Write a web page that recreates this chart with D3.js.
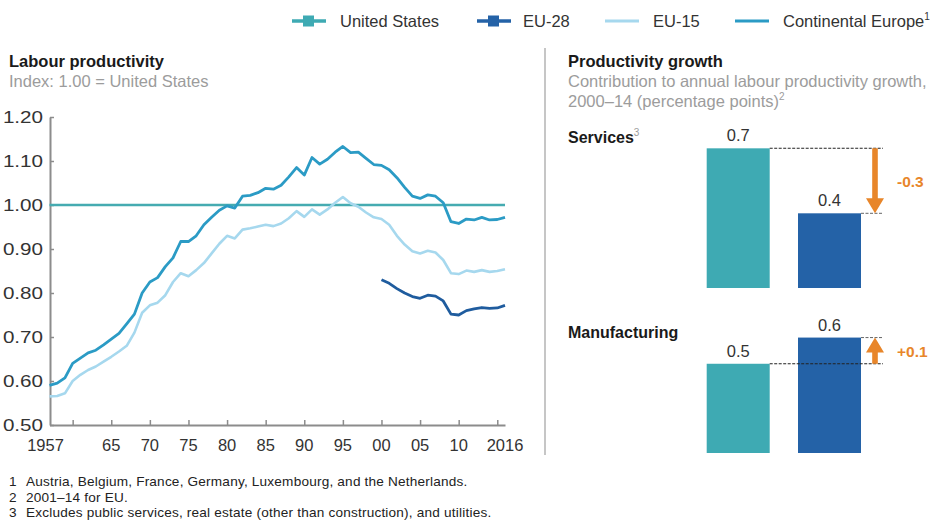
<!DOCTYPE html>
<html><head><meta charset="utf-8">
<script src="https://cdn.jsdelivr.net/npm/d3@7"></script>
<style>
body{margin:0;background:#fff;}
svg{display:block;font-family:"Liberation Sans",Arial,Helvetica,sans-serif;}
</style></head><body>
<svg id="chart" width="933" height="522"></svg>
<script>
// ---------- DATA ----------
const years = [1957,1958,1959,1960,1961,1962,1963,1964,1965,1966,1967,1968,1969,1970,1971,1972,1973,1974,1975,1976,1977,1978,1979,1980,1981,1982,1983,1984,1985,1986,1987,1988,1989,1990,1991,1992,1993,1994,1995,1996,1997,1998,1999,2000,2001,2002,2003,2004,2005,2006,2007,2008,2009,2010,2011,2012,2013,2014,2015,2016];
const continentalEurope = [0.590,0.595,0.607,0.640,0.652,0.664,0.670,0.682,0.695,0.708,0.730,0.752,0.800,0.825,0.835,0.860,0.880,0.917,0.917,0.930,0.955,0.972,0.988,0.998,0.993,1.020,1.022,1.028,1.038,1.036,1.045,1.064,1.085,1.068,1.108,1.093,1.104,1.120,1.133,1.119,1.120,1.106,1.092,1.090,1.080,1.062,1.040,1.020,1.015,1.023,1.020,1.005,0.962,0.958,0.968,0.966,0.972,0.966,0.967,0.972];
const eu15 = [0.565,0.566,0.572,0.600,0.614,0.625,0.633,0.644,0.655,0.667,0.680,0.710,0.755,0.772,0.778,0.795,0.825,0.845,0.838,0.852,0.868,0.890,0.912,0.930,0.924,0.944,0.947,0.951,0.955,0.952,0.958,0.970,0.986,0.973,0.990,0.978,0.990,1.005,1.018,1.004,0.996,0.983,0.972,0.968,0.955,0.930,0.910,0.895,0.890,0.896,0.892,0.875,0.845,0.843,0.851,0.848,0.852,0.848,0.850,0.854];
const eu28Years = [2000,2001,2002,2003,2004,2005,2006,2007,2008,2009,2010,2011,2012,2013,2014,2015,2016];
const eu28 = [0.830,0.822,0.810,0.800,0.792,0.788,0.795,0.793,0.782,0.752,0.750,0.760,0.764,0.767,0.765,0.766,0.772];
const unitedStatesIndex = 1.00;

const yTickValues = [0.50,0.60,0.70,0.80,0.90,1.00,1.10,1.20];
const xTickYears = [1960,1965,1970,1975,1980,1985,1990,1995,2000,2005,2010,2015];
const xLabelYears = [1957,1965,1970,1975,1980,1985,1990,1995,2000,2005,2010,2016];
const xLabelText = ["1957","65","70","75","80","85","90","95","00","05","10","2016"];

const regions = ["United States","EU"];
const sectors = ["Services","Manufacturing"];
const sectorNotes = ["3",""];
const servicesValues = [0.72, 0.385];
const manufacturingValues = [0.46, 0.595];

const legendLabels = ["United States","EU-28","EU-15","Continental Europe"];
const legendNotes = ["","","","1"];
const footnotes = [
  ["1","Austria, Belgium, France, Germany, Luxembourg, and the Netherlands."],
  ["2","2001\u201314 for EU."],
  ["3","Excludes public services, real estate (other than construction), and utilities."]
];

// ---------- STYLE ----------
const C = {
  us: "#3eaab3", usLine: "#45abb1", eu28: "#1f5c9e", eu15: "#a6d8ee",
  cont: "#2b9bc5", euBar: "#2462a7", orange: "#e8862a",
  axis: "#8c8c8c", text: "#333333", title: "#1a1a1a", sub: "#9c9c9c"
};

const svg = d3.select("#chart");

// ---------- LEGEND ----------
const legendColors = [C.us, C.euBar, C.eu15, C.cont];
const legendMarker = [true, true, false, false];
const legendX = [292, 477, 605, 735];
const legendTextX = [340, 523, 653, 783];
const lg = svg.append("g");
legendLabels.forEach((lab, i) => {
  const x0 = legendX[i];
  lg.append("line").attr("x1", x0).attr("x2", x0 + 34).attr("y1", 21).attr("y2", 21)
    .attr("stroke", legendColors[i]).attr("stroke-width", legendMarker[i] ? 3.5 : 3);
  if (legendMarker[i]) {
    lg.append("rect").attr("x", x0 + 11).attr("y", 15.5).attr("width", 11).attr("height", 11)
      .attr("fill", legendColors[i]);
  }
  const t = lg.append("text").attr("x", legendTextX[i]).attr("y", 27)
    .attr("font-size", 16.5).attr("fill", C.text).text(lab);
  if (legendNotes[i]) t.append("tspan").attr("font-size", 10).attr("dy", -7).text(legendNotes[i]);
});

// ---------- LEFT PANEL ----------
svg.append("text").attr("x", 9).attr("y", 67).attr("font-size", 16.5).attr("font-weight", "bold")
  .attr("fill", C.title).text("Labour productivity");
svg.append("text").attr("x", 9).attr("y", 87).attr("font-size", 16.5)
  .attr("fill", C.sub).text("Index: 1.00 = United States");

const x = d3.scaleLinear().domain([years[0], years[years.length - 1]]).range([49.5, 505]);
const y = d3.scaleLinear().domain([0.5, 1.2]).range([425, 117]);

// y axis
const yAxis = svg.append("g").attr("transform", "translate(50,0)")
  .call(d3.axisLeft(y).tickValues(yTickValues).tickFormat(d3.format(".2f"))
    .tickSizeInner(-4).tickSizeOuter(0).tickPadding(7));
yAxis.select(".domain").attr("stroke", C.axis).attr("stroke-width", 2);
yAxis.selectAll(".tick line").attr("stroke", C.axis).attr("stroke-width", 1.5);
yAxis.selectAll(".tick text").attr("font-size", 16.5).attr("fill", C.text)
  .attr("font-family", "'Liberation Sans',Arial,sans-serif")
  .attr("x", -7 / 1.25).attr("transform", "scale(1.25,1)");

// x axis
const xAxis = svg.append("g").attr("transform", "translate(0,425)")
  .call(d3.axisBottom(x).tickValues(xTickYears).tickFormat("").tickSizeInner(-5).tickSizeOuter(0));
xAxis.select(".domain").attr("stroke", C.axis).attr("stroke-width", 2);
xAxis.selectAll(".tick line").attr("stroke", C.axis).attr("stroke-width", 1.5);
svg.append("g").selectAll("text").data(xLabelYears).join("text")
  .attr("x", d => x(d) + (d === years[0] ? -4 : 0)).attr("y", 451)
  .attr("text-anchor", "middle").attr("font-size", 16.5).attr("fill", C.text)
  .text((d, i) => xLabelText[i]);

// lines
const line = d3.line().x(d => x(d[0])).y(d => y(d[1]));
svg.append("path").datum([[years[0], unitedStatesIndex], [years[years.length - 1], unitedStatesIndex]])
  .attr("d", line).attr("fill", "none").attr("stroke", C.usLine).attr("stroke-width", 2.5);
svg.append("path").datum(years.map((yr, i) => [yr, eu15[i]]))
  .attr("d", line).attr("fill", "none").attr("stroke", C.eu15).attr("stroke-width", 2.6)
  .attr("stroke-linejoin", "round");
svg.append("path").datum(eu28Years.map((yr, i) => [yr, eu28[i]]))
  .attr("d", line).attr("fill", "none").attr("stroke", C.eu28).attr("stroke-width", 2.8)
  .attr("stroke-linejoin", "round");
svg.append("path").datum(years.map((yr, i) => [yr, continentalEurope[i]]))
  .attr("d", line).attr("fill", "none").attr("stroke", C.cont).attr("stroke-width", 2.8)
  .attr("stroke-linejoin", "round");

// separator
svg.append("line").attr("x1", 545).attr("x2", 545).attr("y1", 48).attr("y2", 455)
  .attr("stroke", "#c6c6c6").attr("stroke-width", 2);

// ---------- RIGHT PANEL ----------
svg.append("text").attr("x", 568).attr("y", 67).attr("font-size", 16.5).attr("font-weight", "bold")
  .attr("fill", C.title).text("Productivity growth");
svg.append("text").attr("x", 568).attr("y", 87).attr("font-size", 16.5).attr("fill", C.sub)
  .text("Contribution to annual labour productivity growth,");
const sub2 = svg.append("text").attr("x", 568).attr("y", 107).attr("font-size", 16.5).attr("fill", C.sub)
  .text("2000\u201314 (percentage points)");
sub2.append("tspan").attr("font-size", 10).attr("dy", -7).text("2");

const xb = d3.scaleBand().domain(regions).range([706.7, 861]).paddingInner(0.31).paddingOuter(0);
const h = d3.scaleLinear().domain([0, 1]).range([0, 194]);
const baselines = [288, 453];
const labelY = [143, 338];
const fmt = d3.format(".1f");
const fmtDiff = d3.formatLocale({decimal: ".", thousands: ",", grouping: [3], currency: ["", ""], minus: "-"}).format("+.1f");
const panelValues = [servicesValues, manufacturingValues];
const barColors = [C.us, C.euBar];
const arrowX = 875, dashEnd = 883;

sectors.forEach((sec, si) => {
  const g = svg.append("g");
  const base = baselines[si];
  const vals = panelValues[si];
  const top = v => base - h(v);
  const st = g.append("text").attr("x", 568).attr("y", labelY[si]).attr("font-size", 16)
    .attr("font-weight", "bold").attr("fill", C.title).text(sec);
  if (sectorNotes[si]) st.append("tspan").attr("font-size", 10).attr("font-weight", "normal")
    .attr("fill", C.sub).attr("dy", -7).text(sectorNotes[si]);

  g.selectAll("rect").data(vals).join("rect")
    .attr("x", (d, i) => xb(regions[i])).attr("width", xb.bandwidth())
    .attr("y", d => top(d)).attr("height", d => h(d))
    .attr("fill", (d, i) => barColors[i]);
  g.selectAll("text.val").data(vals).join("text").attr("class", "val")
    .attr("x", (d, i) => xb(regions[i]) + xb.bandwidth() / 2).attr("y", d => top(d) - 7)
    .attr("text-anchor", "middle").attr("font-size", 16.5).attr("fill", C.text)
    .text(d => fmt(d));

  // reference dashed lines
  const usTop = top(vals[0]), euTop = top(vals[1]);
  g.append("line").attr("x1", xb(regions[0]) + xb.bandwidth()).attr("x2", dashEnd)
    .attr("y1", usTop).attr("y2", usTop).attr("stroke", "#222").attr("stroke-width", 1.1)
    .attr("stroke-dasharray", "3,1.5");
  g.append("line").attr("x1", xb(regions[1]) + xb.bandwidth()).attr("x2", dashEnd)
    .attr("y1", euTop).attr("y2", euTop).attr("stroke", "#666").attr("stroke-width", 1)
    .attr("stroke-dasharray", "3,1.5");

  // arrow from US level to EU level
  const dir = Math.sign(euTop - usTop);
  const headLen = 15, sw = 2.8, hw = 9;
  const yNeck = euTop - dir * headLen;
  const pts = [
    [arrowX - sw, usTop], [arrowX + sw, usTop], [arrowX + sw, yNeck], [arrowX + hw, yNeck],
    [arrowX, euTop], [arrowX - hw, yNeck], [arrowX - sw, yNeck]
  ];
  g.append("path").attr("d", "M" + pts.map(p => p.join(",")).join("L") + "Z").attr("fill", C.orange);
  g.append("text").attr("x", 897).attr("y", (usTop + euTop) / 2 + 6)
    .attr("font-size", 15.5).attr("font-weight", "bold").attr("fill", C.orange)
    .text(fmtDiff(vals[1] - vals[0]));
});

// ---------- FOOTNOTES ----------
const fn = svg.append("g");
footnotes.forEach((f, i) => {
  fn.append("text").attr("x", 9).attr("y", 486 + i * 15.5).attr("font-size", 13.6).attr("fill", "#222").text(f[0]);
  fn.append("text").attr("x", 26).attr("y", 486 + i * 15.5).attr("font-size", 13.6)
    .attr("letter-spacing", 0.2).attr("fill", "#222").text(f[1]);
});
</script>
</body></html>
